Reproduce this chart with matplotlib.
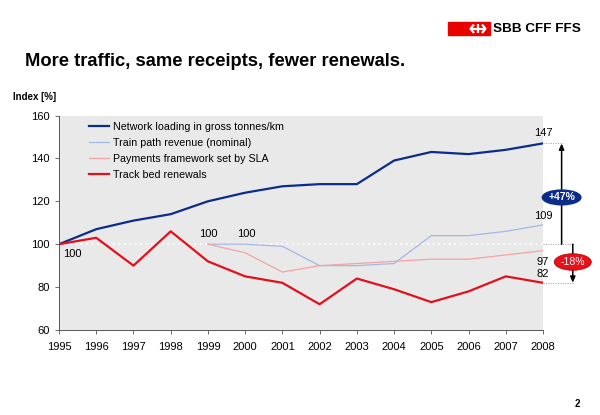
import matplotlib
matplotlib.use("Agg")
import matplotlib.pyplot as plt
from matplotlib.lines import Line2D
from matplotlib.patches import Rectangle

plt.rcParams['font.family'] = ['Liberation Sans', 'DejaVu Sans']

# --- data ---
years = list(range(1995, 2009))
network = [100, 107, 111, 114, 120, 124, 127, 128, 128, 139, 143, 142, 144, 147]
path_years = list(range(1999, 2009))
path_revenue = [100, 100, 99, 90, 90, 91, 104, 104, 106, 109]
sla_payments = [100, 96, 87, 90, 91, 92, 93, 93, 95, 97]
track_bed = [100, 103, 90, 106, 92, 85, 82, 72, 84, 79, 73, 78, 85, 82]
labels = ["Network loading in gross tonnes/km",
          "Train path revenue (nominal)",
          "Payments framework set by SLA",
          "Track bed renewals"]

c_net = "#0c2c8a"
c_path = "#a3b8e4"
c_sla = "#f4a2a2"
c_track = "#e3101c"

W, H = 600, 415
fig = plt.figure(figsize=(W / 100, H / 100), dpi=100)
ax = fig.add_axes([59 / W, 1 - 330 / H, 484 / W, 214.5 / H])
ax.set_facecolor("#e9e9e9")

ax.plot(years, network, color=c_net, lw=1.6, label=labels[0])
ax.plot(path_years, path_revenue, color=c_path, lw=0.9, label=labels[1])
ax.plot(path_years, sla_payments, color=c_sla, lw=0.9, label=labels[2])
ax.plot(years, track_bed, color=c_track, lw=1.6, label=labels[3])

# reference line at 100
ax.plot([1995, 2008], [100, 100], color="white", lw=1.3, ls=(0, (1, 2)), zorder=1.5)

ax.set_xlim(1995, 2008)
ax.set_ylim(60, 160)
ax.set_xticks(years)
ax.set_yticks(range(60, 161, 20))
ax.tick_params(labelsize=8, length=3, width=0.6, color="#555555")
ax.tick_params(axis="x", pad=5.5)
ax.tick_params(axis="y", pad=3.5)
for s in ["top", "right"]:
    ax.spines[s].set_visible(False)
for s in ["left", "bottom"]:
    ax.spines[s].set_color("#555555")
    ax.spines[s].set_linewidth(0.7)

leg = ax.legend(loc="upper left", bbox_to_anchor=(0.062, 0.972), frameon=False,
                fontsize=7.7, handlelength=1.9, handletextpad=0.35,
                labelspacing=0.58, borderpad=0, borderaxespad=0)

# value labels
ax.text(1995.37, 95.3, "100", fontsize=8, ha="center", va="center")
ax.text(1999.0, 104.7, "100", fontsize=8, ha="center", va="center")
ax.text(2000.02, 104.7, "100", fontsize=8, ha="center", va="center")
ax.text(2008, network[-1] + 4.8, "147", fontsize=8, ha="center", va="center")
ax.text(2008, path_revenue[-1] + 4.2, "109", fontsize=8, ha="center", va="center")
ax.text(2008, 91.7, "97", fontsize=8, ha="center", va="center")
ax.text(2008, 86.3, "82", fontsize=8, ha="center", va="center")

# change markers on the right
xa, xb, xe = 2008.5, 2008.8, 2008.82
dot = dict(color="#999999", lw=0.7, ls=(0, (1, 1.5)), clip_on=False)
ax.plot([2008, xa + 0.04], [network[-1]] * 2, **dot)
ax.plot([2008, xe], [100, 100], **dot)
ax.plot([2008, xe], [track_bed[-1]] * 2, **dot)
ax.annotate("", xy=(xa, network[-1]), xytext=(xa, 100), annotation_clip=False,
            arrowprops=dict(arrowstyle="-|>,head_length=0.35,head_width=0.15",
                            color="black", lw=1.1, shrinkA=0, shrinkB=0))
ax.annotate("", xy=(xb, track_bed[-1]), xytext=(xb, 100), annotation_clip=False,
            arrowprops=dict(arrowstyle="-|>,head_length=0.35,head_width=0.15",
                            color="black", lw=1.1, shrinkA=0, shrinkB=0))
ax.text(xa, 121.8, "+47%", fontsize=7.5, fontweight="bold", color="white",
        ha="center", va="center", clip_on=False,
        bbox=dict(boxstyle="ellipse,pad=0.02", fc=c_net, ec=c_net))
ax.text(xb, 91.7, "-18%", fontsize=7.5, color="white",
        ha="center", va="center", clip_on=False,
        bbox=dict(boxstyle="ellipse,pad=0.08", fc="#e8101a", ec="#c00000", lw=0.6))

# page decorations in pixel coordinates
deco = fig.add_axes([0, 0, 1, 1], zorder=-1)
deco.set_xlim(0, W)
deco.set_ylim(H, 0)
deco.axis("off")
deco.add_patch(Rectangle((447.5, 22), 42.5, 13.5, color="#eb0000"))
# SBB symbol: double arrow with cross
wl = dict(color="white", lw=1.6, solid_capstyle="butt")
deco.add_line(Line2D([474, 470.5, 474], [24.5, 28.7, 33], **wl))
deco.add_line(Line2D([482, 485.5, 482], [24.5, 28.7, 33], **wl))
deco.add_line(Line2D([471, 485], [28.7, 28.7], **wl))
deco.add_line(Line2D([478, 478], [24.5, 33], **wl))
deco.text(493, 29, "SBB CFF FFS", fontsize=9.7, fontweight="bold",
          ha="left", va="center")
deco.text(25, 61, "More traffic, same receipts, fewer renewals.",
          fontsize=13.2, fontweight="bold", ha="left", va="center")
deco.text(13, 97, "Index [%]", fontsize=7, fontweight="bold",
          ha="left", va="center")
deco.text(577, 404, "2", fontsize=7, fontweight="bold", ha="center", va="center")

fig.savefig("out.png", dpi=100, facecolor="white")
